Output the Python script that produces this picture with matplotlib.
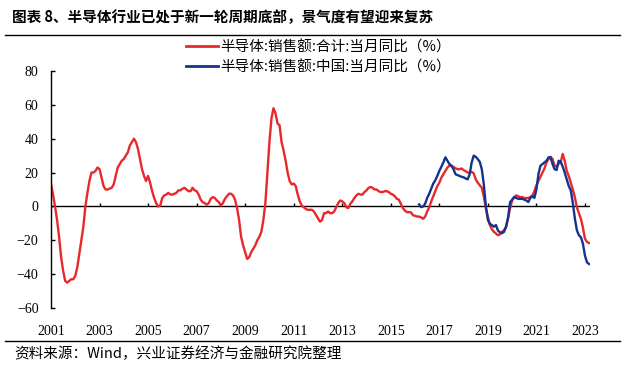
import numpy as np
import matplotlib
matplotlib.use("Agg")
import matplotlib.pyplot as plt
from matplotlib.lines import Line2D

# --- DATA (monthly, Jan 2001 - Mar 2023) ---
start_year = 2001
world_yoy = [
    13.5, 7, 0, -8, -18, -30, -38, -44, -45, -44, -43, -43,        # 2001
    -41, -36, -28, -20, -12, 0, 8, 15, 20, 20, 21, 23,              # 2002
    22, 17, 12, 10, 10, 10.5, 11, 13, 18, 23, 25, 27,               # 2003
    28, 30, 32, 36, 38, 40, 38, 34, 28, 22, 18, 15,                 # 2004
    18, 14, 9, 5, 2, 0, 0.5, 5, 6.5, 7, 8, 7,                       # 2005
    7, 7.5, 8, 9.5, 9.5, 10.5, 11, 10, 9, 9, 11, 9.5,               # 2006
    9, 7, 4, 2.5, 2, 1, 2, 4.5, 5.5, 5, 3.5, 2.5,                   # 2007
    0.5, 2, 4.5, 6, 7.5, 7.5, 6.5, 4, -1, -8, -18, -23,             # 2008
    -27, -31, -30, -27, -25, -23, -20, -18, -15, -8, 2, 20,         # 2009
    38, 52, 58, 55, 49, 48, 38, 33, 27, 20, 15, 13,                 # 2010
    13.5, 12, 7, 3, 0.5, -0.5, -1.5, -2, -2, -2, -3, -5,            # 2011
    -7, -9, -8, -4, -4, -3, -4, -4, -3, -0.5, 2, 3.5,               # 2012
    3, 2, -0.5, -1, 1.6, 3, 5, 6.5, 7.5, 7, 7, 8.5,                 # 2013
    9.5, 11, 11.5, 11, 10, 10, 9, 8.5, 8.5, 9, 9, 8.5,              # 2014
    7.5, 7, 6, 4.5, 4, 1.5, -1, -2.5, -3.4, -3.4, -3.5, -5.3,       # 2015
    -5.5, -6, -6, -6.5, -7.3, -6, -3, -0.5, 3, 6, 9, 12,            # 2016
    14, 17, 19, 21, 23, 24, 24, 23.4, 22.5, 22, 22, 22.4,           # 2017
    21.5, 20.8, 20, 20, 20.4, 19.5, 16, 14, 12.5, 11, 6, -1,        # 2018
    -6, -11, -13.5, -15, -16, -17, -16.5, -15, -14, -12, -7, -1,    # 2019
    3.5, 5.5, 6.5, 6, 5.5, 5.5, 5, 5, 5, 5.5, 6.5, 9,               # 2020
    12.5, 15, 17.5, 20, 22.5, 26, 28, 29.3, 28, 24, 23.5, 25.3,     # 2021
    26, 31, 27, 21, 18, 14, 10, 5.5, -0.5, -4, -7.3, -12.5,         # 2022
    -19, -21, -21.6,                                                # 2023
]

china_start = 182  # Mar 2016
china_yoy = [
    1.2, -0.4, 0, 1.6, 5, 7.5, 10.5, 13.5, 15.4, 18,                # 2016 (Mar-Dec)
    21, 23.4, 26, 29, 27, 25, 24, 22, 19, 18.5, 18, 17.5,           # 2017
    17.2, 16.5, 16, 19, 26, 30, 29.3, 28, 26.3, 22, 13, 0,          # 2018
    -8, -10.3, -11, -12, -11, -14.3, -15.3, -15.8, -15, -12, -6.5, 2.5,  # 2019
    4, 5.5, 5, 4.5, 4.5, 4.5, 4, 3.5, 2.6, 5, 6, 5,                 # 2020
    10, 19, 24, 25, 26, 27, 29, 29, 25, 22, 21.5, 27,               # 2021
    26.5, 23.5, 20, 16, 12, 9.5, 2, -7, -14, -17, -18.2, -22,       # 2022
    -29, -33, -34,                                                  # 2023
]

year_labels = [str(y) for y in range(2001, 2024, 2)]
label_world = "半导体:销售额:合计:当月同比（%）"
label_china = "半导体:销售额:中国:当月同比（%）"
title = "图表 8、半导体行业已处于新一轮周期底部，景气度有望迎来复苏"
source = "资料来源：Wind，兴业证券经济与金融研究院整理"

RED = "#e8282b"
BLUE = "#14338c"
CJK = ["Noto Sans CJK SC", "DejaVu Sans"]
SERIF = ["Liberation Serif", "Noto Sans CJK SC"]

fig = plt.figure(figsize=(6.25, 3.69), dpi=100)
ax = fig.add_axes([51 / 625, 1 - 308 / 369, (590 - 51) / 625, (308 - 71) / 369])

x_world = np.arange(len(world_yoy))
x_china = np.arange(china_start, china_start + len(china_yoy))
ax.plot(x_world, world_yoy, color=RED, lw=1.7, solid_joinstyle="round")
ax.plot(x_china, china_yoy, color=BLUE, lw=1.7, solid_joinstyle="round")

ax.set_xlim(0, len(world_yoy) - 0.5)
ax.set_ylim(-60, 80)
ax.set_yticks(range(-60, 81, 20))

tick_pos = [(int(y) - start_year) * 12 for y in year_labels]
ax.set_xticks(tick_pos)
ax.set_xticklabels(year_labels, family=SERIF, fontsize=10)
ax.tick_params(axis="x", length=0, pad=12)
ax.tick_params(axis="y", direction="in", length=3, width=1, pad=9, labelsize=10)
for lab in ax.get_yticklabels():
    lab.set_family(SERIF)

for s in ["top", "right", "bottom"]:
    ax.spines[s].set_visible(False)
ax.spines["left"].set_linewidth(1)

# zero line with small upward ticks
ax.axhline(0, color="black", lw=1, zorder=1)
ax.vlines(tick_pos[1:], 0, 2.2, color="black", lw=1, zorder=1)

# legend above the plot
handles = [Line2D([], [], color=RED, lw=2), Line2D([], [], color=BLUE, lw=2)]
fig.legend(handles, [label_world, label_china], loc="upper left",
           bbox_to_anchor=(186 / 625, 1 - 40 / 369), frameon=False,
           prop={"family": CJK, "size": 10.5}, handlelength=2.2,
           handletextpad=0.15, labelspacing=0.4, borderaxespad=0, borderpad=0)

# title, rules and source
fig.text(12 / 625, 1 - 17 / 369, title, family=CJK, fontsize=10.5,
         fontweight="bold", va="center", ha="left")
fig.add_artist(Line2D([5 / 625, 620 / 625], [1 - 35 / 369] * 2, color="black", lw=1))
fig.add_artist(Line2D([5 / 625, 620 / 625], [1 - 341 / 369] * 2, color="black", lw=1))
fig.text(14 / 625, 1 - 354 / 369, source, family=CJK, fontsize=10.5,
         va="center", ha="left")

fig.savefig("out.png", dpi=100)
